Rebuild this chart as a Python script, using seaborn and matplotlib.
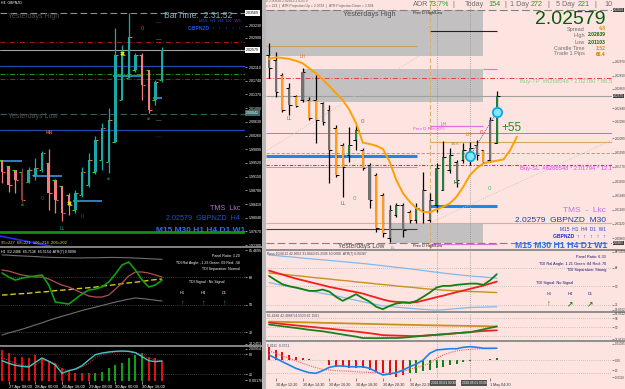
import numpy as np
import matplotlib
matplotlib.use("Agg")
import matplotlib.pyplot as plt
import seaborn as sns
from matplotlib.patches import Rectangle

# ---------------- LEFT: GBPNZD H4 ----------------
h4_open  = [1.99600, 1.99438, 1.99330, 1.99276, 1.99006, 1.99195, 1.99330, 1.99519, 1.99060, 1.98898,
            1.98655, 1.98250, 1.98655, 1.98925, 1.99276, 1.99600, 1.99546, 2.00086, 2.01220, 2.01814,
            2.02030, 2.02435, 2.02030, 2.01220, 2.01760]
h4_high  = [1.99600, 1.99438, 1.99330, 1.99384, 1.99411, 1.99654, 1.99843, 1.99897, 1.99087, 1.98898,
            1.98709, 1.98790, 1.99411, 1.99789, 2.00248, 2.00599, 2.01004, 2.03164, 2.02705, 2.03569,
            2.02489, 2.02489, 2.02030, 2.01760, 2.02639]
h4_low   = [1.98979, 1.98736, 1.98709, 1.98466, 1.98979, 1.99060, 1.99276, 1.98250, 1.98169, 1.97953,
            1.98115, 1.98169, 1.98601, 1.98871, 1.99222, 1.99330, 1.99249, 2.00086, 2.01220, 2.01814,
            2.01976, 2.01220, 2.00869, 2.01085, 2.01706]
h4_close = [1.99276, 1.98925, 1.99060, 1.98520, 1.99330, 1.99384, 1.99789, 1.98709, 1.98520, 1.98169,
            1.98385, 1.98709, 1.99276, 1.99600, 2.00140, 2.00464, 2.00680, 2.02435, 2.02435, 2.02921,
            2.02435, 2.01625, 2.00950, 2.01706, 2.02579]
h4_kind  = ["bear", "bear", "bear", "dark", "bull", "bull", "bull", "bear", "bear", "bear",
            "bear", "bull", "bull", "bull", "bull", "bull", "bull", "bull", "bull", "bull",
            "bull", "bear", "bear", "bull", "bull"]
h4_price_ticks = [1.97300, 1.97670, 1.98040, 1.98410, 1.98780, 1.99150, 1.99520, 1.99890, 2.00260,
                  2.00630, 2.01000, 2.01370, 2.01740, 2.02110, 2.02900, 2.03230]
h4_time_pos = [1, 5, 9, 13, 17, 21]
h4_time_lab = ["27 Apr 08:00", "28 Apr 00:00", "28 Apr 16:00", "29 Apr 08:00", "30 Apr 00:00", "30 Apr 16:00"]
h4_levels_full = [2.03569, 2.02780, 2.02579, 2.02150, 2.01920, 2.01794, 2.00842, 2.00410, 1.97656]
h4_pivot_lvls = [1.99573, 1.99168, 1.98493, 2.01868, 2.01274]
h4_pivot_from = [-0.3, 4.65, 10.6, 16.6, 22.6]
h4_pivot_to   = [3.0, 9.0, 15.0, 21.0, 24.0]

h4_tdi_green  = [70.6, 68.0, 66.0, 67.3, 68.0, 68.7, 69.3, 62.8, 51.6, 51.0, 50.3, 53.6, 56.9,
                 59.5, 60.1, 61.5, 64.7, 70.0, 75.9, 77.8, 72.6, 66.0, 61.5, 62.8, 66.0]
h4_tdi_red    = [72.6, 71.9, 70.6, 69.3, 68.7, 68.0, 68.0, 66.7, 64.7, 62.7, 61.5, 59.5, 57.6,
                 55.6, 54.9, 54.9, 56.2, 60.1, 64.1, 68.7, 71.3, 71.3, 70.6, 69.3, 68.0]
h4_tdi_yellow = [56.2, 56.4, 56.9, 57.1, 57.4, 57.9, 58.2, 58.5, 59.1, 59.4, 59.7, 60.3, 60.6,
                 61.0, 61.4, 62.1, 62.5, 63.0, 63.6, 64.2, 64.6, 65.1, 65.8, 66.3, 66.7]
h4_tdi_upper  = [82.5, 82.3, 82.0, 81.8, 81.6, 81.4, 81.1, 80.9, 80.8, 80.7, 80.6, 80.5, 80.5,
                 80.6, 80.6, 80.7, 80.8, 80.8, 80.7, 80.6, 80.4, 80.2, 80.0, 79.8, 79.6]
h4_tdi_lower  = [30.0, 31.4, 32.6, 33.8, 35.2, 36.7, 38.0, 39.6, 41.0, 42.3, 43.5, 44.8, 46.1,
                 47.2, 48.3, 49.4, 50.5, 51.6, 52.6, 53.5, 54.3, 53.9, 53.4, 52.8, 52.3]
h4_hist       = [92, 83, 71, 71, 68, 77, 68, 56, 53, 38, 32, 23, 23, 23, 23, 26, 38, 47, 53, 68, 77, 83, 71, 68, 59]
h4_hist_up    = [False] * 14 + [True] * 8 + [False] * 3
h4_osc_cyan   = [60, 52, 46, 43, 41, 55, 68, 58, 47, 22, 30, 35, 45, 62, 78, 83, 86, 88, 89, 88, 84, 72, 60, 57, 59]
h4_osc_red    = [70, 60, 52, 46, 44, 48, 60, 60, 52, 35, 30, 33, 40, 52, 68, 78, 83, 86, 87, 87, 85, 78, 68, 62, 60]

# ---------------- RIGHT: GBPNZD M30 ----------------
m30_open  = [2.03046, 2.02989, 2.02818, 2.02670, 2.02579, 2.02533, 2.02533, 2.02533, 2.02499, 2.02419,
             2.02214, 2.02020, 2.01906, 2.02077, 2.01963, 2.01792, 2.01678, 2.01450, 2.00960, 2.01222,
             2.01336, 2.01257, 2.01165, 2.01279, 2.01165, 2.01336, 2.01507, 2.01735, 2.01827, 2.01849,
             2.01849, 2.02020, 2.01963, 2.01849, 2.02043]
m30_high  = [2.03183, 2.03081, 2.02841, 2.02727, 2.02590, 2.02898, 2.02568, 2.02818, 2.02511, 2.02476,
             2.02248, 2.02043, 2.02226, 2.02248, 2.01986, 2.01815, 2.01701, 2.01473, 2.01336, 2.01359,
             2.01359, 2.01279, 2.01359, 2.01713, 2.01473, 2.01815, 2.02066, 2.01986, 2.01849, 2.02043,
             2.02055, 2.02077, 2.01963, 2.02340, 2.02639]
m30_low   = [2.02784, 2.02568, 2.02397, 2.02362, 2.02454, 2.02511, 2.02305, 2.02043, 2.02248, 2.01587,
             2.01656, 2.01428, 2.01827, 2.01963, 2.01735, 2.01302, 2.01029, 2.00972, 2.00910, 2.01200,
             2.00972, 2.01131, 2.01131, 2.01131, 2.01143, 2.01257, 2.01507, 2.01701, 2.01542, 2.01815,
             2.01792, 2.01849, 2.01815, 2.01827, 2.02043]
m30_close = [2.02898, 2.02625, 2.02419, 2.02476, 2.02465, 2.02853, 2.02328, 2.02305, 2.02283, 2.01963,
             2.01678, 2.01770, 2.02020, 2.02191, 2.01758, 2.01393, 2.01074, 2.01017, 2.01279, 2.01336,
             2.01051, 2.01165, 2.01302, 2.01507, 2.01393, 2.01758, 2.01884, 2.01906, 2.01621, 2.01963,
             2.01986, 2.01906, 2.01827, 2.02305, 2.02579]
m30_kind  = ["gray", "gray", "orange", "gray", "orange", "gray", "orange", "orange", "gray", "gray",
             "orange", "orange", "green", "green", "orange", "gray", "orange", "orange", "gray", "green",
             "gray", "orange", "green", "gray", "gray", "green", "green", "green", "gray", "green",
             "green", "gray", "orange", "gray", "green"]
m30_ma = [2.03001, 2.03020, 2.03012, 2.03001, 2.02981, 2.02952, 2.02895, 2.02838, 2.02769, 2.02693,
          2.02610, 2.02533, 2.02419, 2.02268, 2.02047, 2.02032, 2.02012, 2.01975, 2.01830, 2.01621,
          2.01470, 2.01374, 2.01299, 2.01260, 2.01253, 2.01287, 2.01317, 2.01356, 2.01431, 2.01545,
          2.01678, 2.01755, 2.01812, 2.01830, 2.01841, 2.01857, 2.01963, 2.02115]
m30_price_ticks = [2.00960, 2.01120, 2.01280, 2.01440, 2.01600, 2.01770, 2.01930, 2.02099, 2.02290,
                   2.02440, 2.02660, 2.02810, 2.02970]
m30_time_pos = [1, 5, 9, 13, 17, 21, 33]
m30_time_lab = ["30 Apr 12:30", "30 Apr 14:30", "30 Apr 16:30", "30 Apr 18:30", "30 Apr 20:30",
                "30 Apr 22:30", "1 May 04:30"]
m30_tdi_green = [60.2, 56.0, 52.1, 50.2, 48.9, 47.3, 45.6, 45.6, 46.9, 44.9, 39.8, 35.9, 39.1, 42.4,
                 38.5, 35.2, 30.1, 27.8, 31.0, 33.3, 34.2, 33.9, 35.9, 39.8, 44.0, 48.9, 50.5, 50.5,
                 51.5, 52.1, 52.7, 52.7, 51.5, 56.0, 61.9]
m30_tdi_red   = [65.4, 63.4, 61.5, 59.5, 57.6, 56.0, 54.4, 52.7, 51.2, 49.5, 48.2, 46.9, 45.6, 44.4,
                 43.0, 41.0, 39.1, 37.2, 35.6, 34.9, 34.6, 34.2, 34.6, 36.2, 37.8, 39.5, 41.0, 42.7,
                 44.4, 45.9, 47.6, 49.2, 50.8, 52.7, 54.7]
m30_tdi_mid   = [63.1, 62.4, 61.9, 61.1, 60.5, 59.9, 59.1, 58.4, 57.8, 57.2, 56.4, 55.8, 55.2, 54.4,
                 53.8, 53.2, 52.4, 51.8, 51.2, 50.4, 49.8, 49.3, 48.6, 47.9, 47.3, 46.9, 46.3, 46.0,
                 45.6, 45.4, 45.1, 44.8, 44.6, 44.2, 44.0]
m30_tdi_up    = [80.6, 80.1, 79.4, 78.9, 78.3, 77.6, 77.0, 76.4, 75.9, 75.3, 74.7, 74.1, 73.5, 72.9,
                 72.3, 71.6, 70.9, 70.1, 69.4, 68.6, 67.9, 67.1, 66.3, 65.5, 64.6, 63.8, 63.0, 62.2,
                 61.5, 60.8, 60.2, 59.7, 59.1, 58.6, 58.0]
m30_tdi_lo    = [53.7, 52.4, 51.1, 49.8, 48.4, 47.1, 45.8, 44.5, 43.2, 42.0, 40.8, 39.3, 37.9, 36.4,
                 35.0, 33.6, 32.3, 31.0, 30.4, 29.8, 29.2, 28.6, 28.1, 27.6, 27.2, 26.8, 27.2, 27.7,
                 28.3, 28.9, 29.4, 29.6, 29.8, 30.0, 30.1]
m30_rsi_brown = [55.0, 54.9, 54.8, 54.6, 54.5, 54.4, 54.2, 54.1, 53.9, 53.8, 53.6, 53.5, 53.3, 53.2,
                 53.0, 52.9, 52.7, 52.6, 52.4, 52.3, 52.1, 52.0, 51.9, 51.7, 51.6, 51.5, 51.4, 51.3,
                 51.2, 51.1, 51.0, 50.9, 50.8, 50.6, 50.5]
m30_rsi_red   = [54.1, 53.5, 52.8, 52.2, 51.5, 50.9, 50.3, 49.7, 49.0, 48.4, 47.8, 47.1, 46.4, 45.7,
                 45.0, 44.2, 43.4, 42.4, 42.2, 42.0, 41.8, 41.6, 41.5, 41.9, 42.3, 42.7, 43.1, 43.6,
                 44.2, 44.8, 45.3, 45.8, 46.3, 46.6, 46.9]
m30_rsi_green = [52.3, 51.5, 50.7, 49.9, 49.1, 48.3, 47.4, 46.7, 46.0, 45.0, 44.0, 43.0, 42.0, 41.0,
                 39.7, 39.7, 39.6, 39.7, 39.8, 39.7, 40.1, 40.6, 41.2, 41.7, 42.3, 42.8, 43.3, 43.8,
                 44.3, 44.7, 45.1, 46.5, 47.8, 49.2, 50.5]
m30_macd_hist = [0.0083, 0.0064, 0.0051, 0.0032, 0.0019, 0.0013, 0.0006, 0.0003, -0.0003, -0.0032,
                 -0.0045, -0.0045, -0.0049, -0.0049, -0.0051, -0.0064, -0.0070, -0.0083, -0.0096, -0.0108,
                 -0.0096, -0.0083, -0.0083, -0.0070, -0.0064, -0.0051, -0.0045, -0.0032, -0.0026, -0.0013,
                 -0.0006, -0.0003, 0.0003, 0.0006, 0.0013]
m30_macd_up   = [False] * 21 + [True] * 14
m30_macd_blue = [0.0032, 0.0011, -0.0011, -0.0032, -0.0053, -0.0068, -0.0081, -0.0085, -0.0068, -0.0047,
                 -0.0038, -0.0038, -0.0043, -0.0043, -0.0043, -0.0053, -0.0075, -0.0096, -0.0089, -0.0081,
                 -0.0064, -0.0043, -0.0026, 0.0000, 0.0043, 0.0064, 0.0068, 0.0072, 0.0072, 0.0081,
                 0.0085, 0.0081, 0.0075, 0.0075, 0.0075]
m30_macd_sig  = [0.0058, 0.0043, 0.0026, 0.0011, -0.0004, -0.0021, -0.0036, -0.0049, -0.0060, -0.0064,
                 -0.0068, -0.0070, -0.0072, -0.0075, -0.0077, -0.0079, -0.0081, -0.0083, -0.0085, -0.0081,
                 -0.0072, -0.0060, -0.0047, -0.0036, -0.0021, 0.0011, 0.0032, 0.0047, 0.0058, 0.0064,
                 0.0068, 0.0070, 0.0072, 0.0072, 0.0075]

# horizontal levels on M30 (price, from-index, to-index, colour, width, style)
m30_levels = [
    (2.03149, -0.45, 22.1, "#C8A060", 0.8, "-"),
    (2.03320, 24.0, 34.0, "#202020", 0.8, "-"),
    (2.02887, 31.9, 34.0, "#E070E0", 0.8, "-"),
    (2.02780, -0.45, 51.2, "#E04040", 0.7, (0, (5, 2, 1, 2))),
    (2.02579, -0.45, 51.2, "#A0A0A0", 0.8, "-"),
    (2.02237, 24.0, 31.9, "#E070E0", 0.9, "-"),
    (2.02157, -0.45, 51.2, "#7080C0", 0.6, "-"),
    (2.02055, 24.0, 51.2, "#D8A860", 0.8, "-"),
    (2.01929, -0.45, 51.2, "#70B070", 0.6, (0, (4, 2))),
    (2.01895, -0.45, 22.1, "#1E88E5", 2.2, "-"),
    (2.01794, -0.45, 51.2, "#E03030", 0.8, (0, (3, 1.5, 1, 1.5))),
    (2.01770, -0.45, 22.1, "#C89060", 0.6, "-"),
    (2.01325, 24.0, 34.0, "#1E88E5", 2.2, "-"),
    (2.01131, -0.45, 51.2, "#E0B080", 0.8, "-"),
    (2.01063, -0.45, 22.1, "#404040", 0.8, "-"),
    (2.00892, 24.0, 34.0, "#E070E0", 0.8, "-"),
]
m30_boxes = [(-0.45, 31.9, 2.03035, 2.03559), (5.07, 31.9, 2.02511, 2.02887), (18.06, 31.9, 2.00903, 2.01131)]
m30_yday = [2.03559, 2.00903]

# ---------------- figure helpers ----------------
W, H = 625, 389
sns.set_theme(style="white")
plt.rcParams["font.family"] = ["Liberation Sans", "DejaVu Sans"]
fig = plt.figure(figsize=(W / 100, H / 100), dpi=100)
fig.patch.set_facecolor("#C8C8C8")


def axpx(x0, y0, x1, y1, fc):
    ax = fig.add_axes([x0 / W, 1 - y1 / H, (x1 - x0) / W, (y1 - y0) / H])
    ax.set_facecolor(fc)
    for s in ax.spines.values():
        s.set_visible(False)
    ax.set_xticks([])
    ax.set_yticks([])
    return ax


def ft(x, y, s, **kw):
    kw.setdefault("va", "center")
    fig.text(x / W, 1 - y / H, s, **kw)


def draw_candles(ax, o, h, l, c, cols, wick, bw, lw):
    x = np.arange(len(o))
    o, h, l, c = map(np.asarray, (o, h, l, c))
    ax.vlines(x, l, h, colors=wick, lw=lw, zorder=3)
    ax.bar(x, np.maximum(np.abs(c - o), 0.00004), bottom=np.minimum(o, c), width=bw,
           color=cols, linewidth=0, zorder=4)
    return x


BG_R = "#FDE4E1"
# background panels
axpx(0, 0, 262, 389, "black")
axpx(262, 0, 266, 389, "#B8B8B8")
axpx(266, 0, 625, 389, BG_R)

# ================= LEFT MAIN =================
L_XL = (-0.3, 36.43)
axL = axpx(0, 0, 245, 247, "black")
axL.set_xlim(*L_XL)
axL.set_ylim(1.97251, 2.0392)
lcol = {"bull": "#1DA8A8", "bear": "#F07E7E", "dark": "#8E3B3B"}
xl = draw_candles(axL, h4_open, h4_high, h4_low, h4_close, [lcol[k] for k in h4_kind],
                  [lcol[k] for k in h4_kind], 0.36, 0.9)
axL.hlines(h4_open, xl - 0.45, xl - 0.1, colors="#22DD22", lw=0.8, zorder=5)
axL.hlines(h4_close, xl + 0.1, xl + 0.45, colors="#FF6A2A", lw=0.8, zorder=5)
lvl_sty = [("#909090", (0, (6, 3)), 0.8), ("#B01818", (0, (5, 2, 1, 2)), 0.7), ("#A0A0A0", "-", 0.8),
           ("#2848B0", "-", 0.9), ("#18A018", (0, (5, 2, 1, 2)), 0.7), ("#B01818", (0, (5, 2, 1, 2)), 0.7),
           ("#2E5E5E", (0, (6, 3)), 0.8), ("#2848B0", "-", 0.9), ("#109010", "-", 2.0)]
for v, (c, ls, lw) in zip(h4_levels_full, lvl_sty):
    axL.axhline(v, color=c, ls=ls, lw=lw, zorder=2)
axL.hlines(h4_pivot_lvls, h4_pivot_from, h4_pivot_to, colors="#3FA0F0", lw=1.1, zorder=2)
sns.lineplot(x=[-0.3, 7.9], y=[1.97548, 1.97251], ax=axL, color="#2030E0", lw=1.2)
sns.scatterplot(x=[10, 18], y=[1.98440, 2.02489], ax=axL, color="#E8E820", marker="X", s=10,
                linewidth=0, zorder=6)
axL.yaxis.tick_right()
axL.set_yticks(h4_price_ticks)
axL.set_yticklabels([f"{v:.5f}" for v in h4_price_ticks])
axL.tick_params(axis="y", labelsize=2.6, colors="white", length=1.5, width=0.4, pad=1)
axL.set_xticks([])

ft(8, 16, "Yesterdays High", color="#505050", fontsize=5)
ft(8, 117, "Yesterdays Low", color="#505050", fontsize=5)
ft(232, 15, "BarTime:  2:31:52", color="#7FB0B8", fontsize=6.2, ha="right")
ft(241, 21, "M15  H1  H4  D1  W1", color="#2050E0", fontsize=3.2, ha="right")
ft(241, 28, "GBPNZD  ↑   ↑   ↑   ↑   ↑", color="#2050E0", fontsize=3.6, ha="right", weight="bold")
ft(240, 209, "TMS  Lkc", color="#B070D0", fontsize=5.2, ha="right")
ft(240, 219, "2.02579  GBPNZD  H4", color="#2050D0", fontsize=5.2, ha="right")
ft(245, 231, "M15 M30 H1 H4 D1 W1", color="#2A70E8", fontsize=6.0, ha="right", weight="bold")
ft(1, 243, "95=227  68=221  106=214  206=202", color="#E8E020", fontsize=3)
ft(1, 3, "H4  GBPNZD", color="white", fontsize=2.5)
ft(49, 133, "HH", color="#D86020", fontsize=3.5, weight="bold", ha="center")
ft(62, 228, "LL", color="#20A0A0", fontsize=3.5, ha="center")
for (px, py) in [(42, 198), (82, 216)]:
    ft(px, py, "0", color="#207020", fontsize=4, ha="center")
for (px, py) in [(22, 205), (108, 178), (148, 119)]:
    ft(px, py, "■", color="#1C6A1C", fontsize=3.5, ha="center")
ft(142, 28, "0", color="#C02020", fontsize=4, ha="center", weight="bold")
ft(122, 54, "0", color="#E8E020", fontsize=3.5, ha="center")
for yy, cc in [(23, "#B020B0"), (40, "#A0A0A0"), (121, "#A0A0A0"), (137, "#800080")]:
    ft(159, yy, "—", color=cc, fontsize=4, ha="center")
for yy, txt, fc, tc in [(13, "2.03569", "white", "black"), (50, "2.02579", "white", "black"),
                        (113, "2.00842", "#3A6A6A", "white")]:
    ft(246, yy, txt, color=tc, fontsize=2.6, ha="left",
       bbox=dict(boxstyle="square,pad=0.15", fc=fc, ec="none"))

# ================= LEFT INDICATOR 1 (TDI) =================
axpx(0, 246, 262, 248, "#808080")
axT = axpx(0, 248, 245, 345, "black")
axT.set_xlim(*L_XL)
axT.set_ylim(23.5, 87.0)
xi = np.arange(len(h4_tdi_green))
for v in [68, 50, 32]:
    axT.axhline(v, color="#707070", lw=0.5, ls=(0, (1, 2)))
sns.lineplot(x=xi, y=h4_tdi_upper, ax=axT, color="#707070", lw=0.8)
sns.lineplot(x=xi, y=h4_tdi_lower, ax=axT, color="#707070", lw=0.8)
sns.lineplot(x=xi, y=h4_tdi_yellow, ax=axT, color="#D8C820", lw=1.0, ls=(0, (4, 2)))
sns.lineplot(x=xi, y=h4_tdi_red, ax=axT, color="#B05050", lw=0.9)
sns.lineplot(x=xi, y=h4_tdi_green, ax=axT, color="#10A010", lw=1.2)
axT.yaxis.tick_right()
axT.set_yticks([85.4695, 68, 50, 32, 24.2453])
axT.set_yticklabels(["85.4695", "68", "50", "32", "24.2453"])
axT.tick_params(axis="y", labelsize=2.6, colors="white", length=1.5, width=0.4, pad=1)
axT.set_xticks([])
ft(1, 252, "H1  E2.2486  65.7136  65.5154  ATR(7) 0.0098", color="white", fontsize=2.6)
ft(240, 256, "Panel Ratio: 3.20", color="white", fontsize=2.6, ha="right")
ft(240, 263, "TDI Ral Angle: -1.23 Green: 69 Red: -56", color="white", fontsize=2.6, ha="right")
ft(240, 269, "TDI Separation: Normal", color="white", fontsize=2.6, ha="right")
ft(207, 282, "TDI Signal : No Signal", color="white", fontsize=2.6, ha="center")
for px, lab in [(182, "H1"), (203, "H4"), (224, "D1")]:
    ft(px, 293, lab, color="white", fontsize=2.8, ha="center")
    ft(px, 303, "↑", color="#20C020", fontsize=5, ha="center", weight="bold")

# ================= LEFT INDICATOR 2 =================
axpx(0, 345, 262, 347, "#808080")
axO = axpx(0, 347, 245, 381, "black")
axO.set_xlim(*L_XL)
axO.set_ylim(-1, 101)
axO.bar(xi, h4_hist, width=0.3, color=["#10A010" if u else "#E01010" for u in h4_hist_up], linewidth=0)
for v in [80, 20]:
    axO.axhline(v, color="#707070", lw=0.5, ls=(0, (1, 2)))
sns.lineplot(x=xi, y=h4_osc_red, ax=axO, color="#C03030", lw=0.8, ls=(0, (1, 1)))
sns.lineplot(x=xi, y=h4_osc_cyan, ax=axO, color="#40C8C8", lw=1.0)
axO.yaxis.tick_right()
axO.set_yticks([96, 80, 20, 2])
axO.set_yticklabels(["2.00954", "80", "20", "-0.00176"])
axO.tick_params(axis="y", labelsize=2.5, colors="white", length=1.5, width=0.4, pad=1)
axO.set_xticks(h4_time_pos)
axO.set_xticklabels(h4_time_lab, ha="left")
axO.tick_params(axis="x", labelsize=3, colors="white", length=2, width=0.4, pad=1.2, bottom=True)

# ================= RIGHT MAIN =================
R_XL = (-0.45, 51.19)
axR = axpx(266, 0, 612, 249, BG_R)
axR.set_xlim(*R_XL)
axR.set_ylim(2.00835, 2.03673)
for x0, x1, y0, y1 in m30_boxes:
    axR.add_patch(Rectangle((x0, y0), x1 - x0, y1 - y0, color="#C2C0C0", lw=0, zorder=1))
for v in m30_yday:
    axR.axhline(v, color="#808080", lw=0.8, ls=(0, (7, 3)), zorder=2)
for v, x0, x1, c, lw, ls in m30_levels:
    axR.hlines(v, x0, x1, colors=c, lw=lw, linestyles=[ls], zorder=2)
axR.axvline(24.0, color="#D8B070", lw=0.8, ls=(0, (4, 2)), zorder=2)
for xv in [25.0, 30.0]:
    axR.axvline(xv, color="#909090", lw=0.6, ls=(0, (1, 1.5)), zorder=2)
sns.lineplot(x=[-0.3, 26.2], y=[2.01959, 2.03215], ax=axR, color="#C8C8C8", lw=0.7, ls=(0, (1, 1.5)))
sns.lineplot(x=[24.0, 51.2], y=[2.01131, 2.02077], ax=axR, color="#C8C8C8", lw=0.7, ls=(0, (1, 1.5)))
rcol = {"gray": "#707070", "orange": "#FF9A1A", "green": "#1F7F3F"}
xr = draw_candles(axR, m30_open, m30_high, m30_low, m30_close, [rcol[k] for k in m30_kind],
                  "black", 0.32, 0.9)
axR.hlines(m30_open, xr - 0.4, xr, colors="black", lw=0.7, zorder=5)
axR.hlines(m30_close, xr, xr + 0.4, colors="black", lw=0.7, zorder=5)
sns.lineplot(x=np.arange(len(m30_ma)), y=m30_ma, ax=axR, color="#FFA000", lw=1.4, zorder=6)
sns.lineplot(x=[30, 34], y=[2.01895, 2.02397], ax=axR, color="#6060C0", lw=0.7, ls=(0, (1, 1)), zorder=6)
sns.scatterplot(x=[30, 34], y=[2.01895, 2.02397], ax=axR, s=45, color="#80E8FF", edgecolor="#10A8E0",
                linewidth=1.3, zorder=7)
axR.yaxis.tick_right()
axR.set_yticks(m30_price_ticks)
axR.set_yticklabels([f"{v:.5f}" for v in m30_price_ticks])
axR.tick_params(axis="y", labelsize=2.2, colors="#404040", length=1.2, width=0.4, pad=0.6)
axR.set_xticks([])

ft(266, 1.5, "0 2.00838 2.02813 2.02579", color="#606060", fontsize=2.4)
ft(266, 6, "x = 224  |  ATR Projection Up = 2.0334  |  ATR Projection Down = 2.004", color="#606060", fontsize=2.4)
hdr = [(413, "ADR", "#707070"), (429, "73.7%", "#20A020"), (452, "|", "#707070"), (465, "Today", "#707070"),
       (488, "154", "#20A020"), (504, "|", "#707070"), (510, "1 Day", "#707070"), (531, "272", "#20A020"),
       (547, "|", "#707070"), (556, "5 Day", "#707070"), (578, "221", "#20A020"), (594, "|", "#707070"),
       (604, "10", "#707070")]
for px, s, c in hdr:
    ft(px, 4, s, color=c, fontsize=5.2)
ft(343, 14, "Yesterdays High", color="#505050", fontsize=5.2)
ft(413, 13, "Prev D High/Low", color="#202020", fontsize=2.8)
ft(338, 246, "Yesterdays Low", color="#505050", fontsize=4.8)
ft(413, 246, "Prev D High/Low", color="#202020", fontsize=2.8)
ft(606, 19, "2.02579", color="#0A5A0A", fontsize=14, ha="right")
for yy, lab, val, vc in [(29, "Spread", "4.8", "#E09000"), (35, "High", "2.02639", "#0A6A0A"),
                         (42, "Low", "2.01103", "#0A6A0A"), (48, "Candle Time", "1:52", "#E09000"),
                         (54, "Trade 1 Pips", "66.4", "#C08000")]:
    ft(585, yy, lab, color="#707070", fontsize=4.0, ha="right")
    ft(606, yy, val, color=vc, fontsize=3.6, ha="right", weight="bold")
ft(612, 82, "Buy-TP  #8268548 * 2.02780 * 86.5", color="#80D080", fontsize=4.2, ha="right")
ft(612, 168, "Buy-SL  #8268548 * 2.01794 * 12.1", color="#F040F0", fontsize=4.2, ha="right")
ft(413, 129, "Prev D Fib<30%", color="#F040F0", fontsize=3.2)
ft(303, 57, "LH", color="#E08020", fontsize=3.6, ha="center")
ft(469, 134, "LH", color="#E08020", fontsize=3.6, ha="center")
ft(444, 124, "LH", color="#E08020", fontsize=3.6, ha="center")
ft(289, 118, "LL", color="#209090", fontsize=3.6, ha="center")
ft(343, 203, "LL", color="#209090", fontsize=3.6, ha="center")
ft(393, 248, "LL", color="#209090", fontsize=3.0, ha="center")
ft(362, 121, "0", color="#E04040", fontsize=4.5, ha="center")
ft(482, 132, "0", color="#E04040", fontsize=4.5, ha="center")
ft(355, 199, "0", color="#50C050", fontsize=4.5, ha="center")
ft(489, 188, "0", color="#50C050", fontsize=4.5, ha="center")
ft(457, 183, "HL", color="#107010", fontsize=3.6, ha="center", weight="bold")
ft(455, 144, "94.6", color="#A08040", fontsize=3.2, ha="center")
ft(512, 128, "+55", color="#209020", fontsize=8.5, ha="center")
ft(606, 210, "TMS  -  Lkc", color="#C070E0", fontsize=6, ha="right")
ft(606, 221, "2.02579  GBPNZD  M30", color="#2040A0", fontsize=6, ha="right")
ft(606, 230, "M15  H1  H4  D1  W1", color="#2040C0", fontsize=3.4, ha="right")
ft(606, 237, "GBPNZD  ↑   ↑   ↑   ↑   ↑", color="#1030D0", fontsize=3.6, ha="right", weight="bold")
ft(607, 245, "M15 M30 H1 H4 D1 W1", color="#2A70E8", fontsize=6.2, ha="right", weight="bold")
for yy, txt in [(10, "2.03559"), (96, "2.02579"), (243, "2.00903")]:
    ft(613, yy, txt, color="white", fontsize=2.2, ha="left",
       bbox=dict(boxstyle="square,pad=0.15", fc="#404040", ec="none"))

# ================= RIGHT INDICATOR 1 (TDI) =================
axpx(266, 249, 625, 251, "#909090")
axRT = axpx(266, 251, 612, 311, BG_R)
axRT.set_xlim(*R_XL)
axRT.set_ylim(26.0, 84.5)
xr2 = np.arange(len(m30_tdi_green))
for v in [68, 50, 32]:
    axRT.axhline(v, color="#A0A0A0", lw=0.5, ls=(0, (1, 2)))
for xv in [25.0, 30.0]:
    axRT.axvline(xv, color="#909090", lw=0.6, ls=(0, (1, 1.5)))
sns.lineplot(x=xr2, y=m30_tdi_up, ax=axRT, color="#80B8F0", lw=0.9)
sns.lineplot(x=xr2, y=m30_tdi_lo, ax=axRT, color="#80B8F0", lw=0.9)
sns.lineplot(x=xr2, y=m30_tdi_mid, ax=axRT, color="#C89020", lw=1.0)
sns.lineplot(x=xr2, y=m30_tdi_red, ax=axRT, color="#F02020", lw=1.3)
sns.lineplot(x=xr2, y=m30_tdi_green, ax=axRT, color="#108010", lw=1.3)
axRT.yaxis.tick_right()
axRT.set_yticks([84.0, 68, 50, 32, 27.0])
axRT.set_yticklabels(["84.5403", "68", "50", "32", "29.8912"])
axRT.tick_params(axis="y", labelsize=2.2, colors="#404040", length=1.2, width=0.4, pad=0.6)
ft(267, 254, "Ross 60.6612 42.9652 31.8040 65.2505 50.0000  ATR(7) 0.00387", color="#404060", fontsize=2.4)
ft(606, 257, "Panel Ratio: 6.33", color="#101070", fontsize=2.8, ha="right")
ft(606, 264, "TDI Ral Angle: 1.21 Green: 84 Red: 70", color="#101070", fontsize=2.8, ha="right")
ft(606, 270, "TDI Separation: Strong", color="#101070", fontsize=2.8, ha="right")
ft(555, 283, "TDI Signal: No Signal", color="#101070", fontsize=2.8, ha="center")
for px, lab, arr in [(549, "H1", "↑"), (570, "H4", "↗"), (590, "D1", "↗")]:
    ft(px, 294, lab, color="#101070", fontsize=2.8, ha="center")
    ft(px, 305, arr, color="#1A8A1A", fontsize=5.5, ha="center", weight="bold")

# ================= RIGHT INDICATOR 2 (RSI lines) =================
axpx(266, 311, 625, 313, "#909090")
axRR = axpx(266, 313, 612, 340, BG_R)
axRR.set_xlim(*R_XL)
axRR.set_ylim(37.9, 63.05)
for v in [58, 50, 42]:
    axRR.axhline(v, color="#A0A0A0", lw=0.5, ls=(0, (1, 2)))
for xv in [25.0, 30.0]:
    axRR.axvline(xv, color="#909090", lw=0.6, ls=(0, (1, 1.5)))
sns.lineplot(x=xr2, y=m30_rsi_brown, ax=axRR, color="#C89020", lw=1.3)
sns.lineplot(x=xr2, y=m30_rsi_red, ax=axRR, color="#F02020", lw=1.3)
sns.lineplot(x=xr2, y=m30_rsi_green, ax=axRR, color="#208020", lw=1.3)
axRR.yaxis.tick_right()
axRR.set_yticks([62.5, 58, 50, 38.5])
axRR.set_yticklabels(["63.0512", "58", "50", "37.9123"])
axRR.tick_params(axis="y", labelsize=2.2, colors="#404040", length=1.2, width=0.4, pad=0.6)
ft(267, 316, "61.4288 42.4088 54.5523 61.1581", color="#404060", fontsize=2.4)

# ================= RIGHT INDICATOR 3 (MACD) =================
axpx(266, 340, 625, 342, "#909090")
axRM = axpx(266, 342, 612, 378, BG_R)
axRM.set_xlim(*R_XL)
axRM.set_ylim(-0.0115, 0.0115)
for v in [0.0, -0.0085]:
    axRM.axhline(v, color="#A0A0A0", lw=0.5, ls=(0, (1, 2)))
for xv in [25.0, 30.0]:
    axRM.axvline(xv, color="#909090", lw=0.6, ls=(0, (1, 1.5)))
axRM.bar(xr2, m30_macd_hist, width=0.3, color=["#108010" if u else "#E01010" for u in m30_macd_up],
         linewidth=0)
sns.lineplot(x=xr2, y=m30_macd_sig, ax=axRM, color="#F06060", lw=0.8, ls=(0, (1, 1)))
sns.lineplot(x=xr2, y=m30_macd_blue, ax=axRM, color="#2080F0", lw=1.2)
axRM.yaxis.tick_right()
axRM.set_yticks([0.0103, 0.0, -0.0065, -0.0110])
axRM.set_yticklabels(["0.01035", "0.00", "20", "-0.0126"])
axRM.tick_params(axis="y", labelsize=2.2, colors="#404040", length=1.2, width=0.4, pad=0.6)
ft(267, 346, "0.0111  0.3721", color="#404060", fontsize=2.4)
axRM.set_xticks(m30_time_pos)
axRM.set_xticklabels(m30_time_lab, ha="left")
axRM.tick_params(axis="x", labelsize=2.7, colors="#303030", length=2, width=0.4, pad=1.5, bottom=True)
for px, txt in [(443, "2018.05.01 00:30"), (474, "2018.05.01 03:00")]:
    ft(px, 383, txt, color="white", fontsize=2.3, ha="center",
       bbox=dict(boxstyle="square,pad=0.2", fc="#505050", ec="none"))

fig.savefig("out.png", dpi=100, facecolor=fig.get_facecolor())
